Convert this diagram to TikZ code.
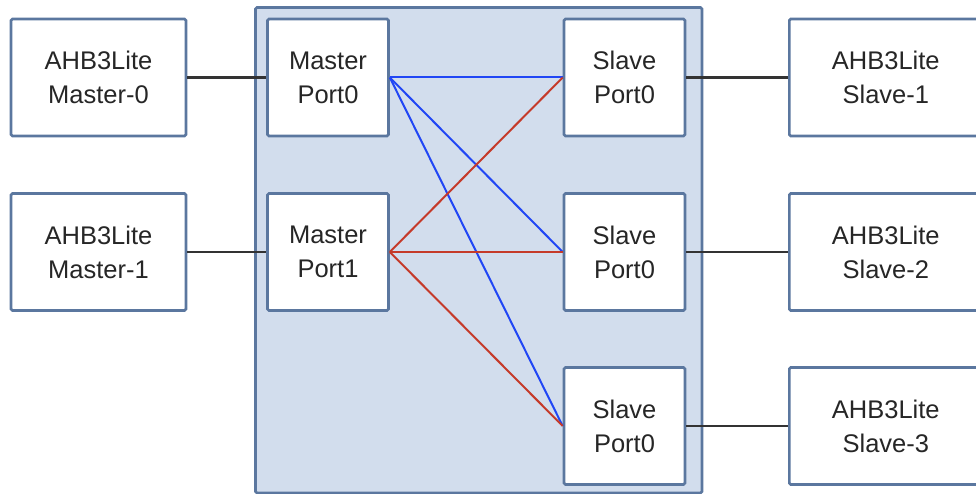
\documentclass[tikz,border=0pt]{standalone}
\usepackage{fontspec}
\setmainfont{Liberation Sans}
\definecolor{bordc}{HTML}{5B779F}
\definecolor{fillc}{HTML}{D2DDED}
\definecolor{bluel}{HTML}{2146F5}
\definecolor{redl}{HTML}{C53A2A}
\definecolor{blk}{HTML}{333333}
\tikzset{
  box/.style={draw=bordc, line width=2.6pt, fill=white, rounded corners=1.5pt,
    minimum width=175pt, minimum height=117pt, align=center, inner sep=0pt,
    font=\fontsize{25.5}{34}\selectfont, text=black!85},
  port/.style={box, minimum width=121pt},
  rbox/.style={box, minimum width=193pt},
  wire/.style={draw=blk, line width=2.6pt},
  bw/.style={draw=bluel, line width=2pt},
  rw/.style={draw=redl, line width=2pt}
}
\begin{document}
\begin{tikzpicture}[x=1pt,y=-1pt]
\useasboundingbox (0,0) rectangle (976,494);
\clip (0,0) rectangle (976,494);
\fill[white] (0,0) rectangle (976,494);
\draw[draw=bordc, fill=fillc, line width=2.6pt, rounded corners=1.5pt] (255.5,7.5) rectangle (702,493);
\node[box] (m0) at (98.5,77.5) {AHB3Lite\\Master-0};
\node[box] (m1) at (98.5,252) {AHB3Lite\\Master-1};
\node[port] (mp0) at (328,77.5) {Master\\Port0};
\node[port] (mp1) at (328,252) {Master\\Port1};
\node[port] (sp0) at (624.5,77.5) {Slave\\Port0};
\node[port] (sp1) at (624.5,252) {Slave\\Port0};
\node[port] (sp2) at (624.5,426) {Slave\\Port0};
\node[rbox, anchor=west] (s1) at (788,77.5) {AHB3Lite\\Slave-1};
\node[rbox, anchor=west] (s2) at (788,252) {AHB3Lite\\Slave-2};
\node[rbox, anchor=west] (s3) at (788,426) {AHB3Lite\\Slave-3};
\draw[wire] (m0.east) -- (mp0.west);
\draw[wire] (m1.east) -- (mp1.west);
\draw[wire] (sp0.east) -- (s1.west);
\draw[wire] (sp1.east) -- (s2.west);
\draw[wire] (sp2.east) -- (s3.west);
\draw[bw] (mp0.east) -- (sp0.west);
\draw[bw] (mp0.east) -- (sp1.west);
\draw[bw] (mp0.east) -- (sp2.west);
\draw[rw] (mp1.east) -- (sp0.west);
\draw[rw] (mp1.east) -- (sp1.west);
\draw[rw] (mp1.east) -- (sp2.west);
\end{tikzpicture}
\end{document}
